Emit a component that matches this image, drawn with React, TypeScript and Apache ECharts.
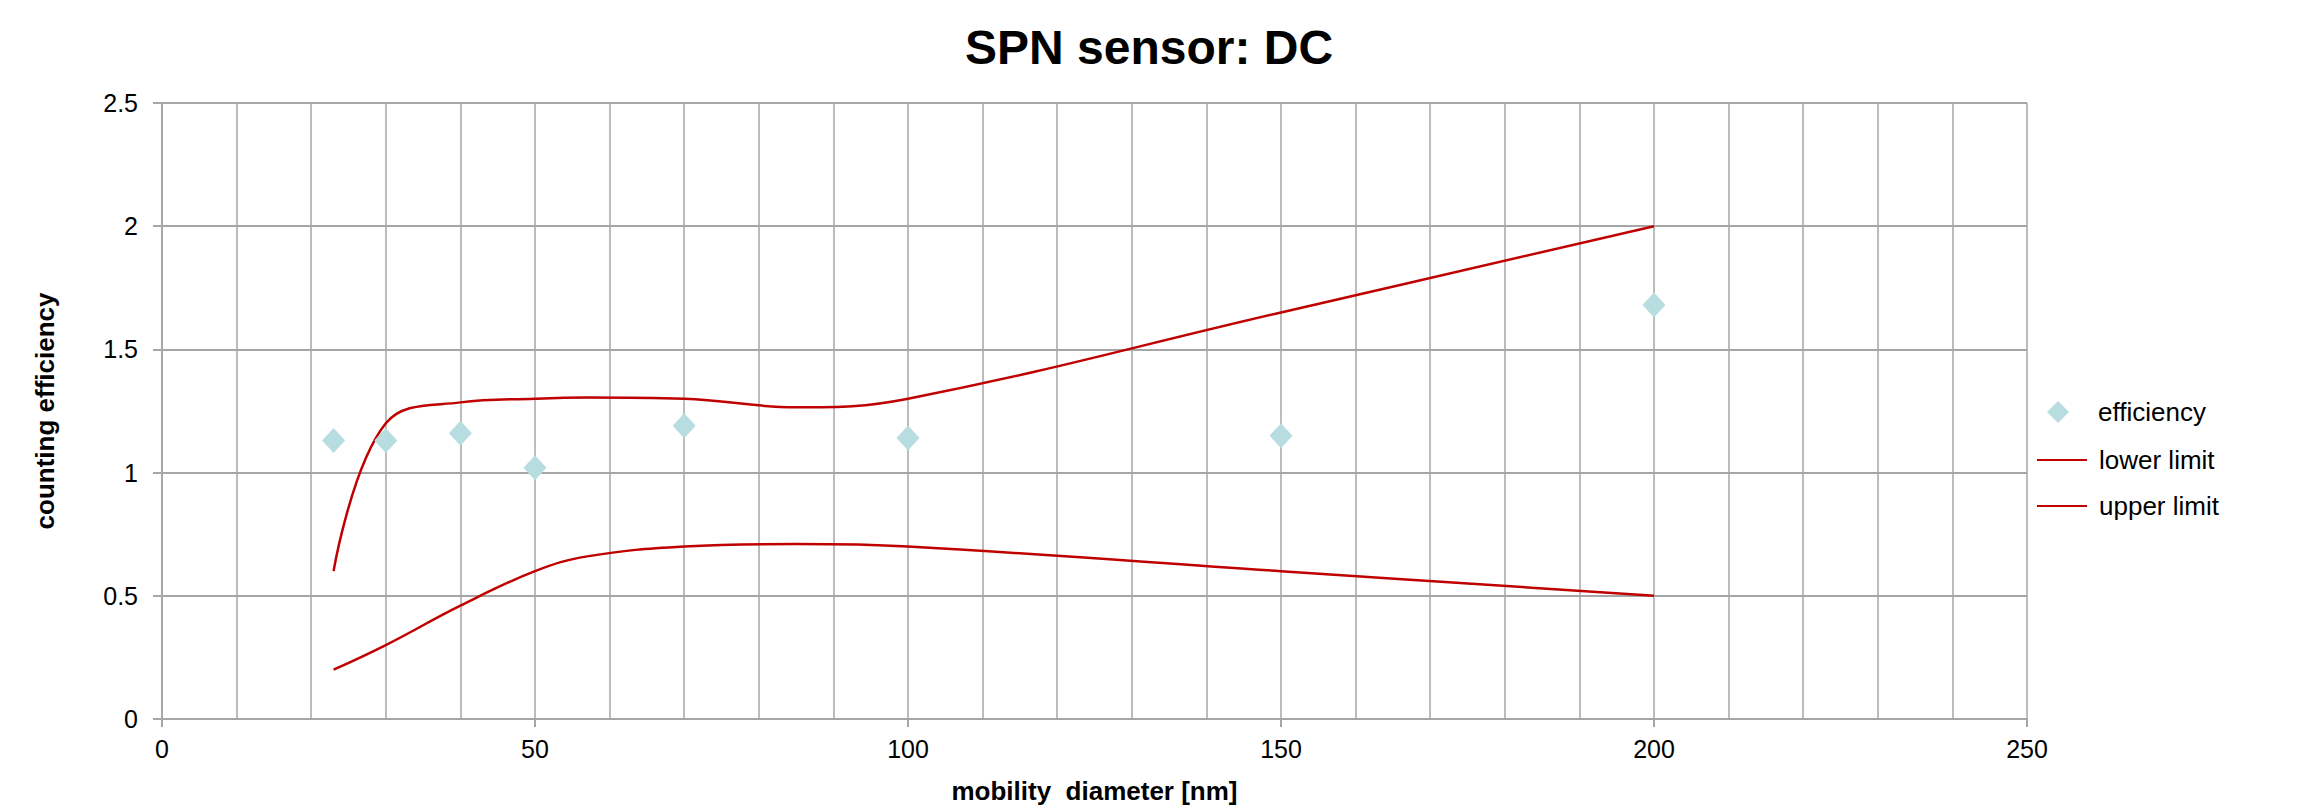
import React, { useEffect, useRef } from "react";
import * as echarts from "echarts";

const diameters = [23, 30, 40, 50, 70, 100, 150, 200];
const efficiency = [1.13, 1.13, 1.16, 1.02, 1.19, 1.14, 1.15, 1.68];

const limitDiameters = [23, 30, 40, 50, 57, 70, 85, 100, 150, 200];
const lowerLimit = [0.2, 0.3, 0.46, 0.6, 0.66, 0.7, 0.71, 0.7, 0.6, 0.5];
const upperLimit = [0.6, 1.2, 1.285, 1.3, 1.305, 1.3, 1.265, 1.3, 1.65, 2.0];

const xTicks = [0, 50, 100, 150, 200, 250];
const yTicks = [0, 0.5, 1, 1.5, 2, 2.5];

const FONT = "'Liberation Sans', Arial, sans-serif";
const GRID_COLOR = "#a6a6a6";
const RED = "#c00000";
const TEAL = "#b7dde1";

export default function App() {
  const ref = useRef<HTMLDivElement>(null);

  useEffect(() => {
    document.body.style.margin = "0";
    if (!ref.current) return;
    const chart = echarts.init(ref.current, null, { renderer: "svg" });

    const pairs = (xs: number[], ys: number[]) => xs.map((x, i) => [x, ys[i]]);

    chart.setOption({
      animation: false,
      backgroundColor: "#ffffff",
      textStyle: { fontFamily: FONT },
      title: {
        text: "SPN sensor: DC",
        left: 960,
        top: 18,
        textStyle: { fontFamily: FONT, fontSize: 48, fontWeight: "bold", color: "#000" },
      },
      grid: { left: 162, right: 276, top: 103, bottom: 88, containLabel: false },
      xAxis: {
        type: "value",
        min: xTicks[0],
        max: xTicks[xTicks.length - 1],
        interval: 50,
        name: "mobility  diameter [nm]",
        nameLocation: "middle",
        nameGap: 59,
        nameTextStyle: { fontFamily: FONT, fontSize: 26, fontWeight: "bold", color: "#000" },
        axisLine: { show: true, onZero: false, lineStyle: { color: GRID_COLOR, width: 2 } },
        axisTick: { show: true, length: 8, lineStyle: { color: GRID_COLOR, width: 2 } },
        axisLabel: { fontFamily: FONT, fontSize: 25, color: "#000", margin: 17 },
        splitLine: { show: true, lineStyle: { color: GRID_COLOR, width: 1.5 } },
        minorTick: { show: false, splitNumber: 5 },
        minorSplitLine: { show: true, lineStyle: { color: GRID_COLOR, width: 1.5 } },
      },
      yAxis: {
        type: "value",
        min: yTicks[0],
        max: yTicks[yTicks.length - 1],
        interval: 0.5,
        name: "counting efficiency",
        nameLocation: "middle",
        nameGap: 104,
        nameTextStyle: { fontFamily: FONT, fontSize: 26, fontWeight: "bold", color: "#000" },
        axisLine: { show: true, lineStyle: { color: GRID_COLOR, width: 2 } },
        axisTick: { show: true, length: 9, lineStyle: { color: GRID_COLOR, width: 2 } },
        axisLabel: { fontFamily: FONT, fontSize: 25, color: "#000", margin: 24 },
        splitLine: { show: true, lineStyle: { color: GRID_COLOR, width: 2 } },
      },
      legend: [
        {
          orient: "vertical",
          left: 2042,
          top: 394,
          itemWidth: 22,
          itemHeight: 22,
          icon: "diamond",
          data: ["efficiency"],
          textStyle: { fontFamily: FONT, fontSize: 26, color: "#000", padding: [0, 0, 0, 24] },
        },
        {
          orient: "vertical",
          left: 2031,
          top: 442,
          itemWidth: 50,
          itemHeight: 4,
          itemGap: 20,
          data: [
            { name: "lower limit", itemStyle: { opacity: 0 } },
            { name: "upper limit", itemStyle: { opacity: 0 } },
          ],
          textStyle: { fontFamily: FONT, fontSize: 26, color: "#000", padding: [0, 0, 0, 7] },
        },
      ],
      series: [
        {
          name: "lower limit",
          type: "line",
          data: pairs(limitDiameters, lowerLimit),
          smooth: 0.4,
          showSymbol: false,
          symbol: "none",
          lineStyle: { color: RED, width: 2.5 },
          itemStyle: { color: RED },
          z: 2,
        },
        {
          name: "upper limit",
          type: "line",
          data: pairs(limitDiameters, upperLimit),
          smooth: 0.4,
          showSymbol: false,
          symbol: "none",
          lineStyle: { color: RED, width: 2.5 },
          itemStyle: { color: RED },
          z: 2,
        },
        {
          name: "efficiency",
          type: "scatter",
          data: pairs(diameters, efficiency),
          symbol: "diamond",
          symbolSize: [23, 25],
          itemStyle: { color: TEAL, opacity: 1 },
          z: 3,
        },
      ],
    });

    return () => chart.dispose();
  }, []);

  return <div ref={ref} style={{ width: 2303, height: 809 }} />;
}
